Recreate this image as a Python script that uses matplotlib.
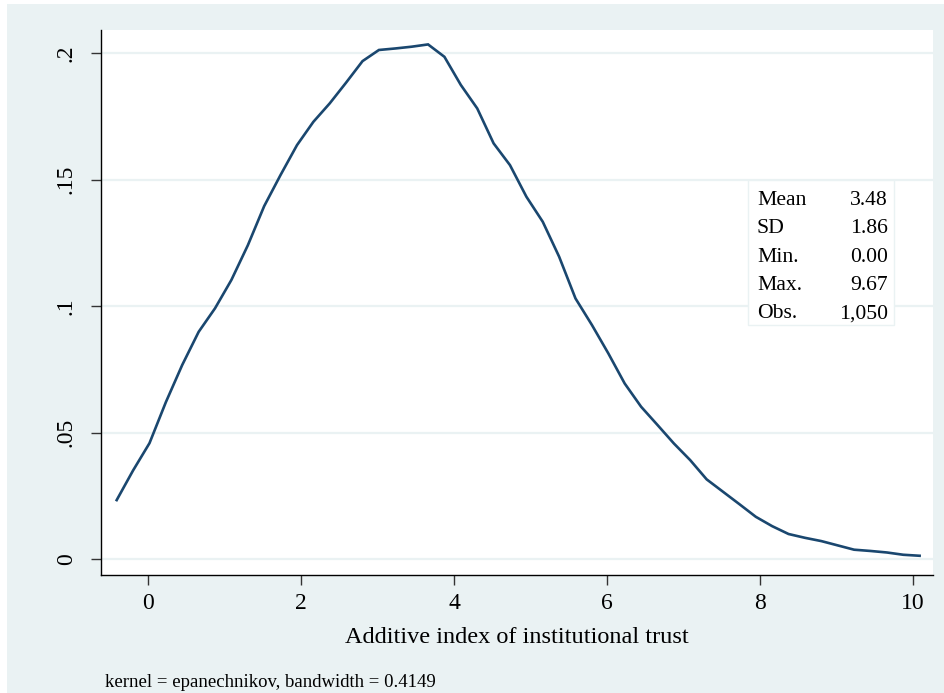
import matplotlib
matplotlib.use("Agg")
import matplotlib.pyplot as plt
from matplotlib.patches import Rectangle

plt.rcParams['font.family'] = ['Liberation Serif', 'DejaVu Serif']

# kernel density estimate evaluated on 50 grid points
grid = [-0.415, -0.201, 0.014, 0.228, 0.442, 0.657, 0.871, 1.085, 1.300, 1.514,
        1.728, 1.943, 2.157, 2.371, 2.585, 2.800, 3.014, 3.228, 3.443, 3.657,
        3.871, 4.085, 4.300, 4.514, 4.728, 4.943, 5.157, 5.371, 5.585, 5.800,
        6.014, 6.228, 6.443, 6.657, 6.871, 7.085, 7.300, 7.514, 7.728, 7.943,
        8.157, 8.371, 8.585, 8.800, 9.014, 9.228, 9.442, 9.657, 9.871, 10.085]
density = [0.0233, 0.0350, 0.0458, 0.0620, 0.0767, 0.0898, 0.0991, 0.1103, 0.1240, 0.1395,
           0.1518, 0.1636, 0.1728, 0.1801, 0.1883, 0.1968, 0.2012, 0.2018, 0.2025, 0.2034,
           0.1985, 0.1874, 0.1781, 0.1643, 0.1557, 0.1432, 0.1333, 0.1195, 0.1030, 0.0925,
           0.0813, 0.0694, 0.0602, 0.0530, 0.0457, 0.0391, 0.0315, 0.0266, 0.0217, 0.0167,
           0.0130, 0.0099, 0.0084, 0.0071, 0.0054, 0.0037, 0.0032, 0.0026, 0.0017, 0.0013]

xticks = [0, 2, 4, 6, 8, 10]
yticks = [0, 0.05, 0.1, 0.15, 0.2]
ylabels = ['0', '.05', '.1', '.15', '.2']

stat_names = ['Mean', 'SD', 'Min.', 'Max.', 'Obs.']
stat_values = ['3.48', '1.86', '0.00', '9.67', '1,050']

bg = '#EAF2F3'
navy = '#1A476F'

fig = plt.figure(figsize=(9.44, 6.93), dpi=100)
fig.patch.set_facecolor('white')
fig.patches.append(Rectangle((7 / 944, 0), 1, 1 - 4 / 693, transform=fig.transFigure,
                             facecolor=bg, edgecolor='none', zorder=-10))

ax = fig.add_axes([101 / 944, 1 - 575 / 693, (933 - 101) / 944, (575 - 30) / 693])
ax.set_facecolor('white')
ax.plot(grid, density, color=navy, lw=1.9, solid_joinstyle='miter', zorder=3)

ax.set_xlim(-0.62, 10.26)
ax.set_ylim(-0.0063, 0.2091)
ax.set_xticks(xticks)
ax.set_xticklabels([str(t) for t in xticks], fontsize=17)
ax.set_yticks(yticks)
ax.set_yticklabels(ylabels, fontsize=17, rotation=90, va='center')
ax.yaxis.grid(True, color=bg, lw=1.6)
ax.set_axisbelow(True)

for s in ['top', 'right']:
    ax.spines[s].set_visible(False)
for s in ['left', 'bottom']:
    ax.spines[s].set_linewidth(1.0)
    ax.spines[s].set_color('black')
ax.tick_params(axis='both', direction='out', length=7, width=1.0, color='#333333')
ax.tick_params(axis='x', pad=6)
ax.tick_params(axis='y', pad=10.5)

ax.set_xlabel('Additive index of institutional trust', fontsize=17.5, labelpad=9)

# summary statistics box
box = Rectangle((748 / 944, 1 - 325 / 693), (894 - 748) / 944, (325 - 180) / 693,
                transform=fig.transFigure, facecolor='white', edgecolor=bg, lw=1.0, zorder=5)
fig.patches.append(box)
for i, (name, val) in enumerate(zip(stat_names, stat_values)):
    y = 1 - (205 + i * 28.3) / 693
    fig.text(757 / 944, y, name, fontsize=15.6, ha='left', va='baseline', zorder=6)
    fig.text(888 / 944, y, val, fontsize=15.6, ha='right', va='baseline', zorder=6)

fig.text(105 / 944, 1 - 687 / 693, 'kernel = epanechnikov, bandwidth = 0.4149',
         fontsize=13.5, ha='left', va='baseline')

fig.savefig('out.png', dpi=100, facecolor=fig.get_facecolor())
